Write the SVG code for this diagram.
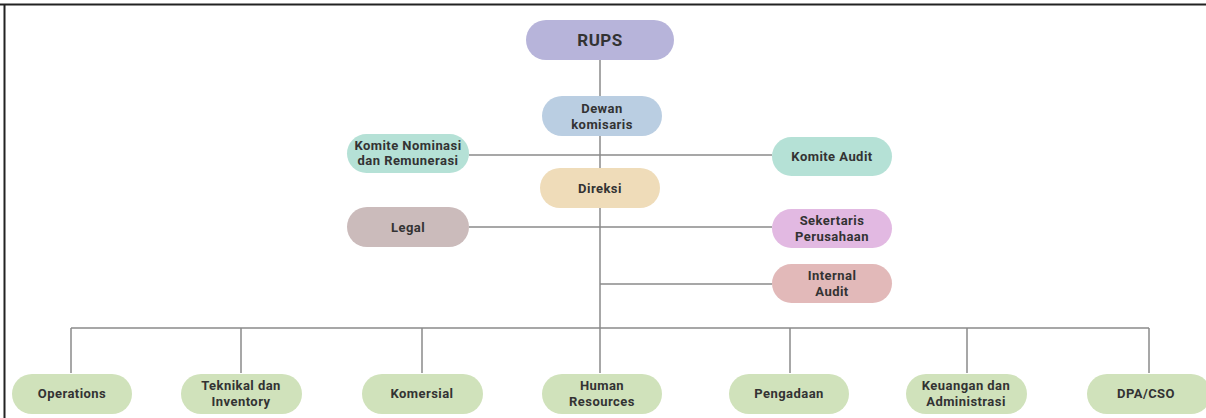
<svg xmlns="http://www.w3.org/2000/svg" width="1206" height="418" viewBox="0 0 1206 418">
<style>
.t{font-family:Roboto,"Liberation Sans",sans-serif;font-weight:bold;font-size:13px;fill:#333;text-anchor:middle;letter-spacing:0.45px}
.c{stroke:#8a8a8a;stroke-width:1.5;fill:none}
.green{fill:#d0e2bb}
</style>
<rect x="0" y="0" width="1206" height="418" fill="#ffffff"/>
<line x1="0" y1="4.5" x2="1206" y2="4.5" stroke="#222" stroke-width="2"/>
<line x1="4.5" y1="4" x2="4.5" y2="418" stroke="#222" stroke-width="2"/>
<g id="connectors">
<line class="c" x1="600" y1="60" x2="600" y2="328"/>
<line class="c" x1="469" y1="155" x2="772" y2="155"/>
<line class="c" x1="469" y1="227" x2="772" y2="227"/>
<line class="c" x1="600" y1="284" x2="772" y2="284"/>
<line class="c" x1="71" y1="328" x2="1149" y2="328"/>
<line class="c" x1="71" y1="328" x2="71" y2="373"/>
<line class="c" x1="241" y1="328" x2="241" y2="373"/>
<line class="c" x1="422" y1="328" x2="422" y2="373"/>
<line class="c" x1="600" y1="328" x2="600" y2="373"/>
<line class="c" x1="790" y1="328" x2="790" y2="373"/>
<line class="c" x1="967" y1="328" x2="967" y2="373"/>
<line class="c" x1="1149" y1="328" x2="1149" y2="373"/>
</g>
<g id="rups"><rect x="526" y="20" width="148" height="40" rx="20" fill="#b7b4da"/><text class="t" x="600" y="46" style="font-size:17px">RUPS</text></g>
<g id="dewan"><rect x="542" y="96" width="120" height="40" rx="20" fill="#bacee2"/><text class="t" x="602" y="113">Dewan</text><text class="t" x="602" y="129">komisaris</text></g>
<g id="komite-nominasi"><rect x="347" y="134" width="122" height="39" rx="19.5" fill="#b5e1d6"/><text class="t" x="408" y="150">Komite Nominasi</text><text class="t" x="408" y="165">dan Remunerasi</text></g>
<g id="komite-audit"><rect x="772" y="137" width="120" height="39" rx="19.5" fill="#b5e1d6"/><text class="t" x="832" y="161">Komite Audit</text></g>
<g id="direksi"><rect x="540" y="168" width="120" height="40" rx="20" fill="#efdcb9"/><text class="t" x="600" y="193">Direksi</text></g>
<g id="legal"><rect x="347" y="207" width="122" height="40" rx="20" fill="#cbbbbb"/><text class="t" x="408" y="232">Legal</text></g>
<g id="sekertaris"><rect x="772" y="209" width="120" height="39" rx="19.5" fill="#e2b9e2"/><text class="t" x="832" y="225">Sekertaris</text><text class="t" x="832" y="241">Perusahaan</text></g>
<g id="internal-audit"><rect x="772" y="264" width="120" height="39" rx="19.5" fill="#e2b9b9"/><text class="t" x="832" y="280">Internal</text><text class="t" x="832" y="296">Audit</text></g>
<g id="operations"><rect class="green" x="12" y="374" width="120" height="40" rx="20"/><text class="t" x="72" y="398">Operations</text></g>
<g id="teknikal"><rect class="green" x="181" y="374" width="121" height="40" rx="20"/><text class="t" x="241" y="390">Teknikal dan</text><text class="t" x="241" y="406">Inventory</text></g>
<g id="komersial"><rect class="green" x="362" y="374" width="121" height="40" rx="20"/><text class="t" x="422" y="398">Komersial</text></g>
<g id="hr"><rect class="green" x="542" y="374" width="120" height="40" rx="20"/><text class="t" x="602" y="390">Human</text><text class="t" x="602" y="406">Resources</text></g>
<g id="pengadaan"><rect class="green" x="729" y="374" width="120" height="40" rx="20"/><text class="t" x="789" y="398">Pengadaan</text></g>
<g id="keuangan"><rect class="green" x="906" y="374" width="121" height="40" rx="20"/><text class="t" x="966" y="390">Keuangan dan</text><text class="t" x="966" y="406">Administrasi</text></g>
<g id="dpa"><rect class="green" x="1087" y="374" width="124" height="40" rx="20"/><text class="t" x="1146" y="398">DPA/CSO</text></g>
</svg>
